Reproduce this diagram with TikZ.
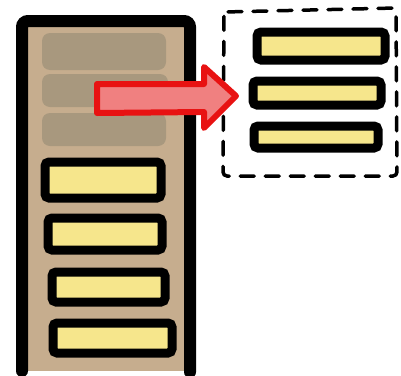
\documentclass[tikz,border=0pt]{standalone}
\usetikzlibrary{positioning}
\definecolor{tan}{RGB}{198,173,142}
\definecolor{bargray}{RGB}{168,152,126}
\definecolor{baryellow}{RGB}{246,230,140}
\definecolor{arrowred}{RGB}{232,18,18}
\definecolor{arrowpink}{RGB}{240,128,128}
\tikzset{
  ybar/.style={draw=black, line width=9pt, fill=baryellow, rounded corners=4pt},
  gbar/.style={fill=bargray, rounded corners=8pt},
}
\begin{document}
\begin{tikzpicture}[x=1pt,y=-1pt]
\useasboundingbox (0,0) rectangle (401,375);
% tall box
\fill[tan] (22,20) rectangle (191,371);
\draw[line width=12pt, rounded corners=6pt, line cap=round] (22,371) -- (22,21) -- (190,21) -- (190,372);
% gray bars
\path[gbar] (42,33) rectangle (166,70) node[midway] (g1) {};
\path[gbar] (42,74) rectangle (168,107) node[midway] (g2) {};
\path[gbar] (42,113) rectangle (166,146) node[midway] (g3) {};
% yellow bars in tall box
\draw[ybar] (45,162) rectangle (161,198) node[midway] (y1) {};
\draw[ybar] (48,218) rectangle (162,250) node[midway] (y2) {};
\draw[ybar] (52,272) rectangle (165,302) node[midway] (y3) {};
\draw[ybar] (53,323) rectangle (172,353) node[midway] (y4) {};
% dashed box
\draw[line width=3.5pt, dash pattern=on 14pt off 11pt, line cap=round, rounded corners=4pt] (224,12) -- (396,8) -- (397,176) -- (223,176) -- cycle;
% right yellow bars
\draw[ybar] (257,32) rectangle (385,60) node[midway] (r1) {};
\draw[ybar] (253,81) rectangle (381,105) node[midway] (r2) {};
\draw[ybar] (254,126) rectangle (378,148) node[midway] (r3) {};
% red arrow
\draw[draw=arrowred, fill=arrowpink, line width=6pt, line join=round]
  (97,84) -- (204,84) -- (204,67) -- (236,96) -- (204,128) -- (204,112) -- (97,113) -- cycle;
\end{tikzpicture}
\end{document}
